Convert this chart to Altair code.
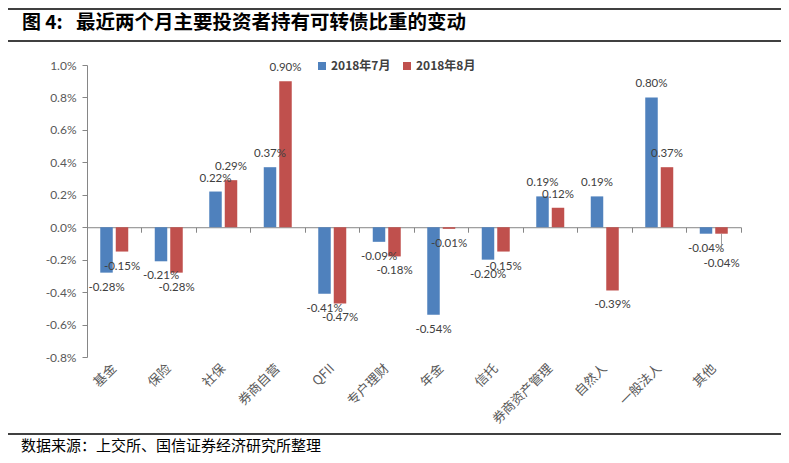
import altair as alt
import pandas as pd

categories = ["基金", "保险", "社保", "券商自营", "QFII", "专户理财", "年金", "信托",
              "券商资产管理", "自然人", "一般法人", "其他"]
series_names = ["2018年7月", "2018年8月"]
jul = [-0.28, -0.21, 0.22, 0.37, -0.41, -0.09, -0.54, -0.20, 0.19, 0.19, 0.80, -0.04]
aug = [-0.15, -0.28, 0.29, 0.90, -0.47, -0.18, -0.01, -0.15, 0.12, -0.39, 0.37, -0.04]
y_ticks = [-0.8, -0.6, -0.4, -0.2, 0.0, 0.2, 0.4, 0.6, 0.8, 1.0]
fig_label = "图 4:"
title_text = "最近两个月主要投资者持有可转债比重的变动"
source_text = "数据来源：上交所、国信证券经济研究所整理"
colors = ["#4F81BD", "#C0504D"]

rows = []
for c, a, b in zip(categories, jul, aug):
    for s, v in zip(series_names, (a, b)):
        rows.append({"cat": c, "series": s, "value": v, "label": f"{v:.2f}%"})
df = pd.DataFrame(rows)

W, H = 654, 292
ZERO_FROM_BOTTOM = H * 0.8 / 1.8

x_scale = alt.Scale(domain=categories, paddingInner=0, paddingOuter=0)
xoff_scale = alt.Scale(domain=series_names, paddingInner=0.194, paddingOuter=0.855)
y_scale = alt.Scale(domain=[-0.8, 1.0], nice=False, zero=False)
color_scale = alt.Scale(domain=series_names, range=colors)

AX = "#868686"
label_axis = alt.Axis(title=None, domain=False, ticks=False, grid=False, labelAngle=-45,
                      labelAlign="right", labelBaseline="middle", labelPadding=9,
                      labelFont="Noto Sans CJK SC", labelFontSize=13, labelColor="#595959",
                      orient="bottom")
zero_axis = alt.Axis(title=None, labels=False, domain=True, ticks=True, bandPosition=1,
                     tickSize=5, domainColor=AX, tickColor=AX, grid=False,
                     offset=-ZERO_FROM_BOTTOM, orient="bottom")
y_axis = alt.Axis(title=None, values=y_ticks, grid=False, domain=True, ticks=True,
                  domainColor=AX, tickColor=AX,
                  tickSize=5, labelPadding=6, labelFont="Lato", labelFontSize=12,
                  labelColor="#595959",
                  labelExpr="(datum.value < -0.0001 ? '-' : '') + format(abs(datum.value), '.1f') + '%'")

legend = alt.Legend(title=None, orient="none", legendX=229, legendY=-5, direction="horizontal",
                    symbolType="square", symbolSize=64, symbolStrokeWidth=0,
                    labelFont="Noto Sans CJK SC", labelFontSize=12, labelFontWeight="bold",
                    labelColor="#404040", labelOffset=3, columnPadding=10)

base = alt.Chart(df)
xo = alt.XOffset("series:N", scale=xoff_scale, sort=series_names)
yv = alt.Y("value:Q", scale=y_scale, axis=y_axis)

bars = base.mark_bar().encode(
    x=alt.X("cat:N", scale=x_scale, sort=categories, axis=label_axis),
    xOffset=xo,
    y=yv,
    color=alt.Color("series:N", scale=color_scale, sort=series_names, legend=legend),
)

tstyle = dict(font="Lato", fontSize=11.5, color="#404040")
special = "datum.cat == '其他' && datum.series == '2018年8月'"

pos_text = base.transform_filter("datum.value >= 0").mark_text(dy=-13, **tstyle).encode(
    x=alt.X("cat:N", scale=x_scale, sort=categories, axis=zero_axis),
    xOffset=xo, y=yv, text="label:N")
neg_text = base.transform_filter(f"datum.value < 0 && !({special})").mark_text(dy=15, **tstyle).encode(
    x=alt.X("cat:N", scale=x_scale, sort=categories, axis=None),
    xOffset=xo, y=yv, text="label:N")
sp_text = base.transform_filter(special).mark_text(dy=30, **tstyle).encode(
    x=alt.X("cat:N", scale=x_scale, sort=categories, axis=None),
    xOffset=xo, y=yv, text="label:N")
leader = base.transform_filter(special).mark_rule(color=AX, strokeWidth=0.8, y2Offset=15).encode(
    x=alt.X("cat:N", scale=x_scale, sort=categories, axis=None),
    xOffset=xo, y=yv, y2="value:Q")

dummy = alt.Chart(pd.DataFrame({"fig": [fig_label], "t": [title_text], "s": [source_text]}))
top_rule = dummy.mark_rule(color="#000000", strokeWidth=1.5).encode(
    x=alt.value(-80), x2=alt.value(694), y=alt.value(-56))
mid_rule = dummy.mark_rule(color="#000000", strokeWidth=1.5).encode(
    x=alt.value(-80), x2=alt.value(694), y=alt.value(-24))
bot_rule = dummy.mark_rule(color="#000000", strokeWidth=1.5).encode(
    x=alt.value(-80), x2=alt.value(694), y=alt.value(369))
fig_t = dummy.mark_text(align="left", baseline="middle", font="Noto Sans CJK SC", fontSize=19,
                        fontWeight="bold", color="#000000").encode(
    x=alt.value(-65), y=alt.value(-42), text="fig:N")
title_t = dummy.mark_text(align="left", baseline="middle", font="Noto Sans CJK SC", fontSize=19.5,
                          fontWeight="bold", color="#000000").encode(
    x=alt.value(-11), y=alt.value(-42), text="t:N")
src_t = dummy.mark_text(align="left", baseline="middle", font="Noto Sans CJK SC", fontSize=15,
                        color="#000000").encode(
    x=alt.value(-66), y=alt.value(381), text="s:N")

chart = alt.layer(
    bars, pos_text, neg_text, sp_text, leader,
    top_rule, mid_rule, bot_rule, fig_t, title_t, src_t,
).resolve_axis(x="independent").properties(
    width=W, height=H,
    autosize=alt.AutoSizeParams(type="none"),
    padding={"left": 79, "top": 57, "right": 40, "bottom": 98},
).configure_view(strokeWidth=0)

chart.save("out.html", embed_options={"renderer": "svg", "actions": False})
